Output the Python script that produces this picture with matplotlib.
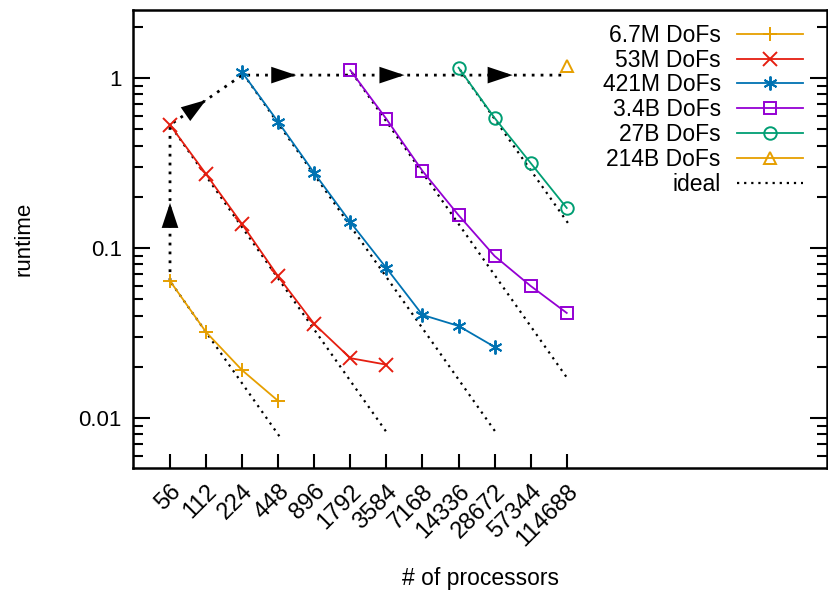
import numpy as np
import matplotlib
matplotlib.use("Agg")
from matplotlib import pyplot as plt
from matplotlib.ticker import FixedLocator, NullFormatter, LogLocator

plt.rcParams['font.family'] = ['Liberation Sans', 'DejaVu Sans']

procs = [56, 112, 224, 448, 896, 1792, 3584, 7168, 14336, 28672, 57344, 114688]
tick_labels = [str(p) for p in procs]

# runtime per problem size, starting processor count and values
p_6m7 = [56, 112, 224, 448]
t_6m7 = [0.064, 0.032, 0.0191, 0.0126]
p_53m = [56, 112, 224, 448, 896, 1792, 3584]
t_53m = [0.53, 0.272, 0.138, 0.068, 0.0357, 0.0225, 0.0206]
p_421m = [224, 448, 896, 1792, 3584, 7168, 14336, 28672]
t_421m = [1.08, 0.551, 0.276, 0.142, 0.0762, 0.0404, 0.0348, 0.0262]
p_3b4 = [1792, 3584, 7168, 14336, 28672, 57344, 114688]
t_3b4 = [1.11, 0.574, 0.284, 0.156, 0.0897, 0.0598, 0.0415]
p_27b = [14336, 28672, 57344, 114688]
t_27b = [1.15, 0.582, 0.316, 0.172]
p_214b = [114688]
t_214b = [1.18]

# weak scaling path (arrows)
path_p = [56, 56, 224, 1792, 14336, 114688]
path_t = [0.064, 0.53, 1.04, 1.04, 1.04, 1.04]

series = [
    ("6.7M DoFs", p_6m7, t_6m7, "#e69f00", "+"),
    ("53M DoFs", p_53m, t_53m, "#e51e10", "x"),
    ("421M DoFs", p_421m, t_421m, "#0072b2", (6, 2, 0)),
    ("3.4B DoFs", p_3b4, t_3b4, "#9400d3", "s"),
    ("27B DoFs", p_27b, t_27b, "#009e73", "o"),
    ("214B DoFs", p_214b, t_214b, "#e69f00", "^"),
]

fig = plt.figure(figsize=(8.29, 5.92), dpi=100)
ax = fig.add_axes([133 / 829, 1 - 468 / 592, (827.5 - 133) / 829, (468 - 10) / 592])

# ideal lines
for i, (name, p, t, c, m) in enumerate(series[:5]):
    last = [448, 3584, 28672, 114688, 114688][i]
    pi = np.array([q for q in procs if p[0] <= q <= last], dtype=float)
    ax.plot(pi * 1.03, t[0] * p[0] / pi * 0.97, color="black", lw=1.6,
            ls=(0, (1, 2.2)), zorder=1)

for name, p, t, c, m in series:
    filled = m in ("+", "x") or isinstance(m, tuple)
    ax.plot(p, t, color=c, lw=1.3, marker=m, ms=10 if m not in ("s", "o", "^") else 9,
            mfc=c if filled else "none", mec=c, mew=1.4, label=name, zorder=3)

ax.plot([], [], color="black", lw=1.6, ls=(0, (1, 2.2)), label="ideal")

# weak scaling path with arrowheads
ax.plot(path_p, path_t, color="black", lw=2, ls=(0, (1, 2.2)), zorder=2)
for k in range(len(path_p) - 1):
    x0, x1 = np.log(path_p[k]), np.log(path_p[k + 1])
    y0, y1 = np.log(path_t[k]), np.log(path_t[k + 1])
    xm, ym = np.exp((x0 + x1) / 2), np.exp((y0 + y1) / 2)
    xs, ys = np.exp(x0 + 0.45 * (x1 - x0)), np.exp(y0 + 0.45 * (y1 - y0))
    ax.annotate("", xy=(xm, ym), xytext=(xs, ys),
                arrowprops=dict(arrowstyle="-|>,head_length=0.9,head_width=0.3",
                                color="black", lw=0, mutation_scale=20,
                                shrinkA=0, shrinkB=0), zorder=4)

ax.set_xscale("log", base=2)
ax.set_yscale("log")
ax.set_xlim(27.5, 56 * 2 ** 18.23)
ax.set_ylim(10 ** (-2.294), 10 ** 0.4)

ax.xaxis.set_major_locator(FixedLocator(procs))
ax.set_xticklabels(tick_labels)
ax.xaxis.set_minor_locator(FixedLocator([]))
for lab in ax.get_xticklabels():
    lab.set_rotation(45)
    lab.set_ha("right")
    lab.set_va("top")
    lab.set_rotation_mode("anchor")
    lab.set_fontsize(17)

ax.yaxis.set_major_locator(FixedLocator([0.01, 0.1, 1]))
ax.set_yticklabels(["0.01", "0.1", "1"])
ax.yaxis.set_minor_locator(LogLocator(base=10, subs=np.arange(2, 10)))
ax.yaxis.set_minor_formatter(NullFormatter())

ax.tick_params(axis="y", which="both", direction="in", labelsize=16, width=1.5)
ax.tick_params(axis="x", which="both", direction="in", width=1.5)
ax.tick_params(axis="y", which="major", length=12, right=True, pad=8)
ax.tick_params(axis="y", which="minor", length=7, right=True)
ax.tick_params(axis="x", which="major", length=10, top=False, pad=9)
for s in ax.spines.values():
    s.set_linewidth(1.8)

ax.set_ylabel("runtime", fontsize=16, labelpad=32)
fig.text(481 / 829, 1 - 578 / 592, "# of processors", fontsize=16.5,
         ha="center", va="center")

ax.legend(loc="upper right", bbox_to_anchor=(0.985, 1.0), frameon=False,
          markerfirst=False, fontsize=16.5, labelspacing=0.08, handlelength=2.9,
          handletextpad=0.7, borderaxespad=0.2)

fig.savefig("out.png", dpi=100)
